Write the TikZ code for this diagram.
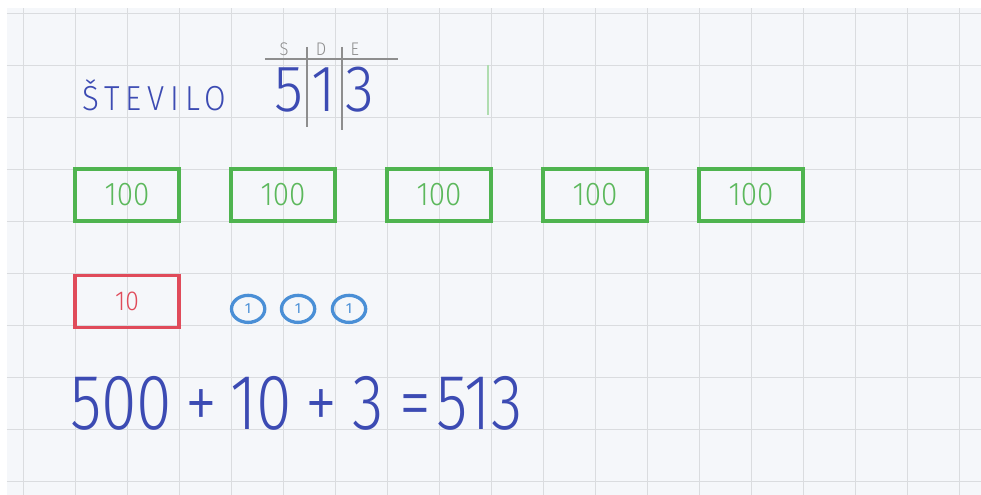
\documentclass[tikz,border=0pt]{standalone}
\usepackage{fontspec}
\setmainfont{Fira Sans}
\newfontfamily\handfont[FakeStretch=0.9]{Fira Sans Light}
\newfontfamily\sumfont[FakeStretch=0.82]{Fira Sans Light}
\usepackage{tikz}
\usetikzlibrary{
  positioning,
  shapes.geometric,
}
\definecolor{penBlue}{HTML}{3C4BB3}
\definecolor{crayGreen}{HTML}{4FB44F}
\definecolor{crayGreenText}{HTML}{5CB85C}
\definecolor{crayRed}{HTML}{E04B5A}
\definecolor{skyBlue}{HTML}{4A8FD6}
\definecolor{pencilGray}{HTML}{8E8E8E}
\definecolor{gridCol}{HTML}{DADCDF}
\definecolor{paper}{HTML}{F5F7FA}
\tikzset{
  gridLine/.style={draw=gridCol, line width=0.5pt},
  pencil/.style={draw=pencilGray, line width=1pt},
  note/.style={inner sep=0pt, text=penBlue},
  placeHead/.style={
    inner sep=0pt, text=pencilGray,
    font={\handfont\fontsize{10}{12}\selectfont},
  },
  hundredBox/.style={
    rectangle, draw=crayGreen, line width=2.2pt, inner sep=0pt,
    minimum width=2cm, minimum height=1cm, text=crayGreenText,
    font={\handfont\fontsize{18}{20}\selectfont},
  },
  tenBox/.style={
    rectangle, draw=crayRed, line width=2pt, inner sep=0pt,
    minimum width=2cm, minimum height=1cm, text=crayRed,
    font={\handfont\fontsize{15}{16}\selectfont},
  },
  oneCoin/.style={
    ellipse, draw=skyBlue, line width=1.8pt, inner sep=0pt,
    minimum width=0.64cm, minimum height=0.52cm, text=skyBlue,
    font={\fontsize{8}{9}\selectfont},
  },
}

\begin{document}
\begin{tikzpicture}

% Paper and grid
\useasboundingbox[fill=white] (-0.442,-0.269) rectangle (18.423,9.25);
\fill[paper] (-0.31,-0.269) rectangle (18.423,9.10);
\draw[gridLine] (-0.31,-0.269) grid (18.423,9.10);

% Number in the place-value table
\node[note, anchor=base west, font={\handfont\fontsize{19}{21}\selectfont\addfontfeature{LetterSpace=17}}] (label) at (1.13,7.13) {ŠTEVILO};
\node[placeHead] (headS) at (5.02,8.31) {S};
\node[placeHead] (headD) at (5.73,8.31) {D};
\node[placeHead] (headE) at (6.38,8.31) {E};
\draw[pencil] (4.65,8.12) -- (7.21,8.12);
\draw[pencil] (5.46,8.35) -- (5.46,6.81);
\draw[pencil] (6.13,8.35) -- (6.13,6.75);
\foreach \x/\d/\nm in {5.11/5/digS, 5.78/1/digD, 6.48/3/digE}
  \node[note, anchor=base, font={\handfont\fontsize{36}{40}\selectfont}] (\nm) at (\x,7.10) {\d};
\draw[crayGreen!45, line width=1.5pt] (8.94,8.0) -- (8.94,7.04);

% Hundreds
\foreach \x [count=\n] in {2,5,...,14}
  \node[hundredBox] (hund\n) at (\x,5.5) {100};

% Tens and ones
\node[tenBox] (ten) at (2,3.45) {10};
\foreach \x [count=\n] in {4.33,5.29,6.27}
  \node[oneCoin] (one\n) at (\x,3.31) {1};

% Sum
\node[note, anchor=base west, font={\sumfont\fontsize{43}{48}\selectfont}] (sum) at (0.9,1.0) {500\hspace{0.25cm}+\hspace{0.25cm}10\hspace{0.25cm}+\hspace{0.3cm}3\hspace{0.3cm}=\hspace{0.1cm}513};

\end{tikzpicture}
\end{document}
